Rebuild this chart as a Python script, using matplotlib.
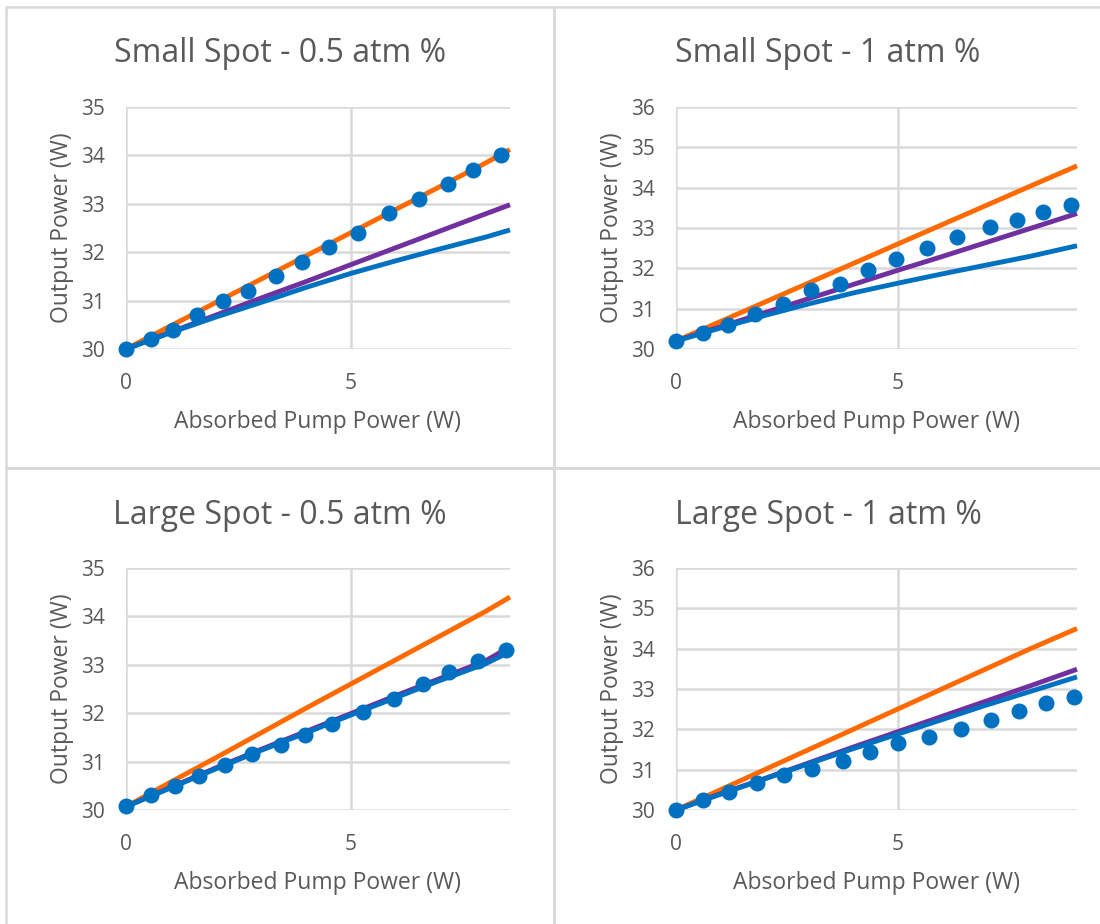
import matplotlib
matplotlib.use("Agg")
import matplotlib.pyplot as plt
from matplotlib.patches import Rectangle

plt.rcParams['font.family'] = ['Open Sans', 'DejaVu Sans']

titles = ["Small Spot - 0.5 atm %", "Small Spot - 1 atm %",
          "Large Spot - 0.5 atm %", "Large Spot - 1 atm %"]
xlabel = "Absorbed Pump Power (W)"
ylabel = "Output Power (W)"

# Measured data (markers)
x_ss05 = [0, 0.56, 1.04, 1.59, 2.15, 2.72, 3.34, 3.91, 4.52, 5.16, 5.85, 6.53, 7.16, 7.73, 8.35]
y_ss05 = [30.0, 30.2, 30.4, 30.7, 31.0, 31.2, 31.5, 31.8, 32.1, 32.4, 32.8, 33.1, 33.4, 33.7, 34.0]
x_ss1 = [0, 0.60, 1.18, 1.78, 2.41, 3.05, 3.71, 4.33, 4.96, 5.67, 6.35, 7.08, 7.70, 8.29, 8.92]
y_ss1 = [30.2, 30.4, 30.6, 30.86, 31.12, 31.46, 31.62, 31.95, 32.23, 32.5, 32.77, 33.03, 33.2, 33.4, 33.57]
x_ls05 = [0, 0.56, 1.09, 1.63, 2.20, 2.81, 3.45, 3.99, 4.58, 5.28, 5.96, 6.61, 7.19, 7.83, 8.47]
y_ls05 = [30.08, 30.3, 30.5, 30.7, 30.92, 31.16, 31.35, 31.55, 31.78, 32.02, 32.3, 32.6, 32.85, 33.08, 33.3]
x_ls1 = [0, 0.61, 1.20, 1.82, 2.44, 3.07, 3.77, 4.38, 5.02, 5.71, 6.43, 7.12, 7.74, 8.34, 8.99]
y_ls1 = [30.0, 30.25, 30.45, 30.68, 30.86, 31.01, 31.22, 31.43, 31.67, 31.82, 32.0, 32.23, 32.45, 32.65, 32.8]

# Model curves (orange, purple, blue)
xl_a = [0, 1, 2, 3, 4, 5, 6, 7, 8, 8.55]
orange_ss05 = [30.0, 30.48, 30.96, 31.44, 31.92, 32.4, 32.88, 33.36, 33.84, 34.12]
purple_ss05 = [30.0, 30.35, 30.70, 31.05, 31.39, 31.74, 32.09, 32.44, 32.79, 32.98]
blue_ss05 = [30.0, 30.34, 30.66, 30.96, 31.27, 31.56, 31.82, 32.07, 32.31, 32.46]

xl_b = [0, 1, 2, 3, 4, 5, 6, 7, 8, 9.05]
orange_ss1 = [30.2, 30.68, 31.16, 31.64, 32.12, 32.6, 33.08, 33.56, 34.04, 34.54]
purple_ss1 = [30.2, 30.55, 30.9, 31.25, 31.6, 31.95, 32.29, 32.64, 32.99, 33.36]
blue_ss1 = [30.2, 30.52, 30.83, 31.12, 31.39, 31.63, 31.86, 32.08, 32.3, 32.56]

orange_ls05 = [30.07, 30.58, 31.08, 31.59, 32.1, 32.6, 33.1, 33.6, 34.1, 34.4]
purple_ls05 = [30.07, 30.47, 30.87, 31.25, 31.62, 31.99, 32.36, 32.72, 33.08, 33.37]
blue_ls05 = [30.07, 30.46, 30.85, 31.23, 31.59, 31.96, 32.32, 32.68, 33.02, 33.27]

orange_ls1 = [30.0, 30.5, 31.0, 31.5, 32.0, 32.5, 33.0, 33.5, 34.0, 34.5]
purple_ls1 = [30.0, 30.4, 30.78, 31.17, 31.56, 31.94, 32.32, 32.7, 33.08, 33.49]
blue_ls1 = [30.0, 30.39, 30.77, 31.15, 31.52, 31.88, 32.24, 32.6, 32.94, 33.3]

panels = [
    (x_ss05, y_ss05, xl_a, orange_ss05, purple_ss05, blue_ss05, 8.55, (30, 35)),
    (x_ss1, y_ss1, xl_b, orange_ss1, purple_ss1, blue_ss1, 9.05, (30, 36)),
    (x_ls05, y_ls05, xl_a, orange_ls05, purple_ls05, blue_ls05, 8.55, (30, 35)),
    (x_ls1, y_ls1, xl_b, orange_ls1, purple_ls1, blue_ls1, 9.05, (30, 36)),
]

W, H = 1100, 924
fig = plt.figure(figsize=(11, 9.24), dpi=100)

ORANGE = "#FF6A00"
PURPLE = "#7030A0"
BLUE = "#0070C0"
GRID = "#D9D9D9"
TXT = "#595959"

# panel frames (pixel coords)
frames = [(6, 7, 554, 468), (554, 7, 1104, 468), (6, 468, 554, 930), (554, 468, 1104, 930)]
for (x0, y0, x1, y1) in frames:
    fig.patches.append(Rectangle((x0 / W, 1 - y1 / H), (x1 - x0) / W, (y1 - y0) / H,
                                 transform=fig.transFigure, fill=False,
                                 edgecolor=GRID, linewidth=1.8, zorder=0))

# title centres (pixel coords)
title_pos = [(280, 53), (828, 53), (280, 515), (828, 515)]

# plot areas (pixel coords): left, top, right, bottom
areas = [(126, 107, 510, 349), (676, 107, 1077, 349),
         (126, 568, 510, 810), (676, 568, 1077, 810)]

for i, (px, py, xl, yo, yp, yb, xmax, ylim) in enumerate(panels):
    l, t, r, b = areas[i]
    ax = fig.add_axes([l / W, 1 - b / H, (r - l) / W, (b - t) / H])
    ax.set_xlim(0, xmax)
    ax.set_ylim(*ylim)
    ax.set_xticks([0, 5])
    ax.set_yticks(range(ylim[0], ylim[1] + 1))
    ax.grid(True, color=GRID, linewidth=1.8)
    ax.set_axisbelow(True)
    for s in ax.spines.values():
        s.set_visible(False)
    ax.tick_params(length=0, labelsize=15, labelcolor=TXT)
    ax.tick_params(axis='x', pad=17)
    ax.tick_params(axis='y', pad=15)
    ax.plot(xl, yo, color=ORANGE, lw=3.5, solid_capstyle='butt', zorder=3, clip_on=False)
    ax.plot(xl, yp, color=PURPLE, lw=3.5, solid_capstyle='butt', zorder=3, clip_on=False)
    ax.plot(xl, yb, color=BLUE, lw=3.5, solid_capstyle='butt', zorder=4, clip_on=False)
    ax.plot(px, py, 'o', color=BLUE, markersize=10.5, zorder=5, clip_on=False)
    ax.set_xlabel(xlabel, fontsize=16.5, color=TXT, labelpad=12)
    ax.set_ylabel(ylabel, fontsize=16.5, color=TXT, labelpad=5)
    tx, ty = title_pos[i]
    fig.text(tx / W, 1 - ty / H, titles[i], fontsize=23, color=TXT,
             ha='center', va='center')

fig.savefig("out.png", dpi=100)
